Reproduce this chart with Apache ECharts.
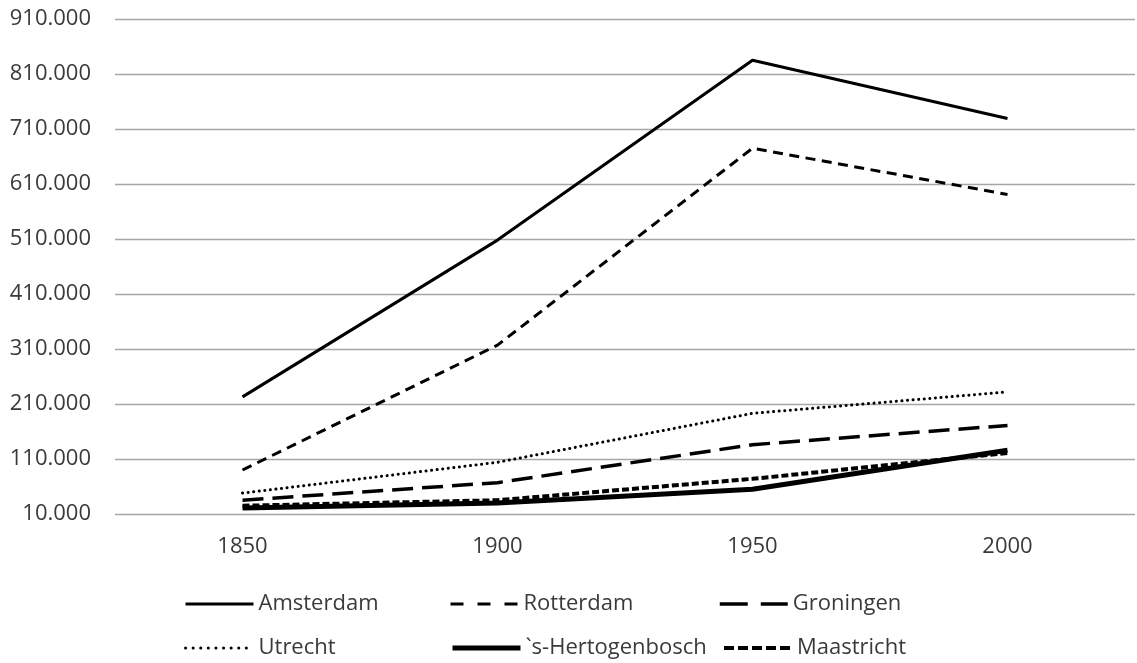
<!DOCTYPE html>
<html>
<head>
<meta charset="utf-8">
<script src="https://cdn.jsdelivr.net/npm/echarts@6/dist/echarts.min.js"></script>
<style>html,body{margin:0;padding:0;background:#fff;}#c{width:1137px;height:663px;}</style>
</head>
<body>
<div id="c"></div>
<script>
const years = ['1850', '1900', '1950', '2000'];
const amsterdam = [223000, 508000, 835000, 729000];
const rotterdam = [90000, 317000, 675000, 591000];
const groningen = [35000, 67000, 136000, 171000];
const utrecht = [48000, 104000, 193000, 232000];
const hertogenbosch = [21000, 30000, 55000, 126000];
const maastricht = [25000, 35000, 74000, 121000];
const yTicks = [10000, 910000, 100000]; // min, max, step

const FONT = 'Open Sans';
const TXT = '#3a3a3a';

const seriesDefs = [
  {name: 'Amsterdam', data: amsterdam, w: 3, type: 'solid', lt: 'solid', cap: 'butt'},
  {name: 'Rotterdam', data: rotterdam, w: 3, type: [10, 6.5], lt: [13, 14], cap: 'butt'},
  {name: 'Groningen', data: groningen, w: 3.5, type: [21, 9], lt: [28, 13], cap: 'butt'},
  {name: 'Utrecht', data: utrecht, w: 3, type: [0.1, 5.5], lt: [0.1, 7.5], cap: 'round'},
  {name: '`s-Hertogenbosch', data: hertogenbosch, w: 5, type: 'solid', lt: 'solid', cap: 'butt'},
  {name: 'Maastricht', data: maastricht, w: 4, type: [7, 3], lt: [10, 4], cap: 'butt'}
];
const legendPos = [
  [184, 604], [449, 604], [718, 604],
  [184, 648], [450, 648], [722, 648]
];

const chart = echarts.init(document.getElementById('c'), null, {renderer: 'canvas'});
const fmt = v => String(v).replace(/\B(?=(\d{3})+(?!\d))/g, '.');

chart.setOption({
  backgroundColor: '#fff',
  animation: false,
  grid: {left: 115, right: 2, top: 19, bottom: 149, containLabel: false},
  xAxis: {
    type: 'category', data: years, boundaryGap: true,
    axisLine: {show: false}, axisTick: {show: false},
    axisLabel: {color: TXT, fontFamily: FONT, fontSize: 22, margin: 22}
  },
  yAxis: {
    type: 'value', min: yTicks[0], max: yTicks[1], interval: yTicks[2],
    axisLine: {show: false}, axisTick: {show: false},
    splitLine: {show: true, lineStyle: {color: '#a6a6a6', width: 1.3}},
    axisLabel: {color: TXT, fontFamily: FONT, fontSize: 22, margin: 24, formatter: fmt}
  },
  legend: seriesDefs.map((s, i) => ({
    left: legendPos[i][0], top: legendPos[i][1] - 12,
    itemWidth: 68, itemHeight: 24, itemGap: 0, padding: 0,
    textStyle: {color: TXT, fontFamily: FONT, fontSize: 22, lineHeight: 24},
    data: [{
      name: s.name,
      itemStyle: {color: 'rgba(0,0,0,0)', borderWidth: 0, opacity: 0},
      lineStyle: {width: s.w, type: s.lt, color: '#000', cap: s.cap, opacity: 1}
    }]
  })),
  series: seriesDefs.map(s => ({
    name: s.name, type: 'line', data: s.data,
    symbol: 'none', smooth: false,
    lineStyle: {color: '#000', width: s.w, type: s.type, cap: s.cap},
    itemStyle: {color: '#000'}
  }))
});
</script>
</body>
</html>
